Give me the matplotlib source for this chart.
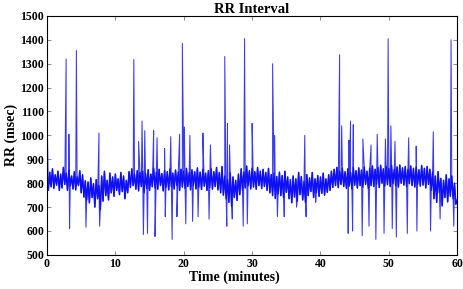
import matplotlib
matplotlib.use('Agg')
import matplotlib.pyplot as plt
import numpy as np

# baseline RR values, one every 0.2 minutes (0 .. 60)
rr_base = [
    812, 770, 846, 785, 860, 778, 835, 792, 850, 770,
    838, 780, 866, 795, 842, 770, 855, 788, 830, 776,
    848, 772, 826, 790, 852, 760, 835, 742, 810, 730,
    805, 718, 822, 740, 798, 700, 815, 735, 790, 690,
    830, 725, 850, 748, 812, 730, 842, 760, 826, 745,
    838, 770, 818, 752, 845, 765, 830, 735, 812, 760,
    848, 782, 860, 790, 838, 775, 852, 768, 845, 786,
    850, 760, 842, 778, 856, 770, 838, 785, 862, 780,
    845, 775, 858, 790, 840, 768, 852, 782, 848, 772,
    860, 785, 842, 776, 855, 790, 846, 770, 858, 784,
    850, 778, 862, 786, 844, 772, 856, 790, 848, 776,
    864, 784, 846, 774, 858, 788, 842, 770, 852, 782,
    860, 775, 848, 786, 866, 772, 845, 760, 870, 750,
    830, 735, 815, 720, 842, 705, 826, 740, 812, 728,
    838, 752, 860, 770, 846, 780, 872, 790, 852, 776,
    862, 784, 848, 775, 866, 790, 850, 778, 858, 786,
    845, 770, 862, 760, 836, 748, 842, 736, 828, 755,
    846, 748, 832, 740, 850, 762, 826, 735, 815, 718,
    830, 742, 818, 725, 845, 752, 828, 730, 808, 720,
    836, 748, 822, 765, 845, 740, 818, 760, 832, 745,
    826, 758, 842, 750, 818, 762, 835, 770, 850, 782,
    858, 790, 866, 782, 850, 795, 862, 786, 848, 778,
    860, 788, 845, 776, 866, 792, 852, 780, 864, 790,
    855, 784, 868, 795, 850, 778, 862, 790, 872, 786,
    858, 796, 866, 782, 875, 800, 860, 788, 870, 794,
    862, 786, 874, 798, 858, 790, 868, 784, 876, 800,
    864, 792, 870, 786, 858, 798, 872, 790, 862, 784,
    868, 796, 856, 788, 874, 792, 862, 780, 870, 795,
    858, 770, 846, 735, 830, 720, 848, 760, 820, 705,
    812, 740, 835, 722, 818, 745, 830, 735, 800, 712,
    730,
]
t_base = np.linspace(0, 60, len(rr_base))

# ectopic / artefact beats (minutes, msec)
spike_t = [0.05, 2.8, 3.2, 4.3, 7.6, 12.7, 13.4, 13.9, 14.3, 15.6, 16.1, 17.2,
           18.1, 19.4, 19.8, 20.1, 20.9, 22.8, 23.9, 26.0, 26.4, 26.7, 28.9,
           30.0, 33.0, 33.3, 37.7, 42.8, 43.1, 44.15, 44.4, 44.8, 46.2, 47.4,
           48.3, 49.5, 49.9, 50.3, 50.9, 52.9, 54.0, 56.5, 59.1,
           3.3, 5.7, 7.7, 14.1, 14.7, 15.8, 17.3, 18.3, 19.0, 20.3, 21.3,
           22.1, 23.7, 26.3, 27.1, 28.7, 29.3, 33.7, 34.7, 36.5, 37.9, 39.3,
           44.05, 44.7, 46.1, 47.1, 48.1, 49.3, 50.5, 51.1, 52.7, 54.1, 56.1,
           57.5, 59.5]
spike_v = [1025, 1320, 1005, 1355, 1010, 1318, 975, 1060, 1020, 1020, 990, 945,
           995, 1005, 1385, 1035, 1000, 1010, 960, 1330, 1050, 960, 1405,
           1050, 1300, 1000, 1000, 1337, 1040, 980, 1060, 1045, 985, 960,
           1005, 985, 1404, 1040, 975, 990, 955, 1015, 1400,
           610, 615, 620, 585, 590, 577, 660, 565, 660, 630, 640,
           660, 650, 620, 650, 620, 630, 660, 660, 700, 660, 720,
           590, 600, 580, 620, 565, 590, 610, 575, 590, 600, 600,
           650, 620]

t_all = np.concatenate([t_base, spike_t])
v_all = np.concatenate([rr_base, spike_v])
order = np.argsort(t_all, kind='stable')

plt.rcParams['font.family'] = ['Liberation Serif', 'DejaVu Serif']
plt.rcParams['font.weight'] = 'bold'

fig = plt.figure(figsize=(4.63, 2.89), dpi=100)
ax = fig.add_axes([0.1015, 0.118, 0.886, 0.827])
# full series thin, dense baseline band drawn heavier on top
ax.plot(t_all[order], v_all[order], color='#3a3af0', lw=0.75)
ax.plot(t_base, rr_base, color='#1010f5', lw=1.1)

ax.set_xlim(0, 60)
ax.set_ylim(500, 1500)
ax.set_xticks(range(0, 61, 10))
ax.set_yticks(range(500, 1501, 100))
ax.tick_params(direction='in', top=True, right=True, length=3, width=0.6,
               labelsize=8.5, pad=2, color='#777777')
for lab in ax.get_xticklabels() + ax.get_yticklabels():
    lab.set_fontweight('bold')
for s in ax.spines.values():
    s.set_linewidth(0.8)
ax.set_title('RR Interval', fontsize=10.5, fontweight='bold', pad=2)
ax.set_xlabel('Time (minutes)', fontsize=10, fontweight='bold', labelpad=1)
ax.xaxis.set_label_coords(0.458, -0.065, transform=ax.transAxes)
ax.xaxis.label.set_va('top')
ax.set_ylabel('RR (msec)', fontsize=10, fontweight='bold', labelpad=2)

fig.savefig('out.png', dpi=100)
